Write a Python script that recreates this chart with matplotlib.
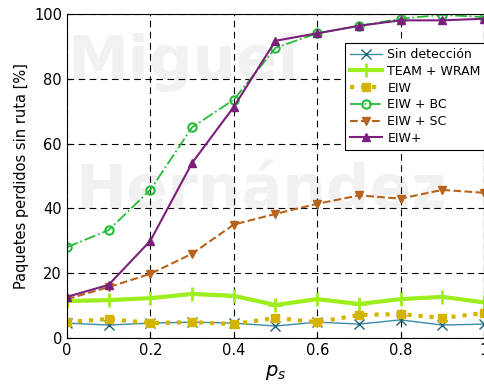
import matplotlib
matplotlib.use('Agg')
import matplotlib.pyplot as plt

p_s = [0, 0.1, 0.2, 0.3, 0.4, 0.5, 0.6, 0.7, 0.8, 0.9, 1.0]

sin_deteccion = [4.6, 4.0, 4.6, 4.9, 4.6, 3.7, 4.9, 4.3, 5.6, 4.0, 4.3]
team_wram = [11.4, 11.7, 12.3, 13.6, 13.0, 10.2, 12.0, 10.5, 12.0, 12.7, 11.0]
eiw = [4.9, 5.9, 4.6, 4.9, 4.3, 6.2, 4.9, 7.1, 7.4, 6.2, 7.7]
eiw_bc = [28.0, 33.3, 45.7, 65.0, 73.5, 89.5, 94.0, 96.3, 98.5, 99.7, 99.0]
eiw_sc = [12.0, 15.7, 19.8, 26.0, 35.0, 38.3, 41.4, 44.0, 43.0, 45.7, 44.8]
eiw_plus = [12.7, 16.4, 30.0, 54.0, 71.3, 91.7, 94.0, 96.3, 98.0, 98.0, 98.5]

fig = plt.figure(figsize=(4.85, 3.85), dpi=100)
ax = fig.add_axes([0.138, 0.122, 0.86, 0.842])

# faint watermark behind the plot
ax.text(0.0, 0.80, 'Miguel', transform=ax.transAxes, fontsize=44,
        color='#f1f1f1', fontweight='bold', zorder=0, clip_on=True)
ax.text(0.02, 0.40, 'Hernández', transform=ax.transAxes, fontsize=44,
        color='#f1f1f1', fontweight='bold', zorder=0, clip_on=True)

ax.plot(p_s, sin_deteccion, color='#3a8ca8', lw=1, marker='x', ms=7,
        mec='#1c6478', label='Sin detección')
ax.plot(p_s, team_wram, color='#9cee1c', lw=3, marker='+', ms=10, mew=2,
        label='TEAM + WRAM')
ax.plot(p_s, eiw, color='#d4b400', lw=3, ls=':', marker='s', ms=6,
        label='EIW')
ax.plot(p_s, eiw_bc, color='#26bb38', lw=1.3, ls='-.', marker='o', ms=6,
        mfc='none', mew=1.5, label='EIW + BC')
ax.plot(p_s, eiw_sc, color='#b8621c', lw=1.5, ls='--', marker='v', ms=6,
        label='EIW + SC')
ax.plot(p_s, eiw_plus, color='#7a1f7c', lw=1.5, marker='^', ms=6,
        label='EIW+')

ax.set_xlim(0, 1)
ax.set_ylim(0, 100)
ax.set_xticks([0, 0.2, 0.4, 0.6, 0.8, 1.0])
ax.set_xticklabels(['0', '0.2', '0.4', '0.6', '0.8', '1'])
ax.set_yticks([0, 20, 40, 60, 80, 100])
ax.grid(True, color='black', ls=(0, (6, 4)), lw=0.8)
ax.tick_params(labelsize=10.5, direction='in')

ax.set_xlabel('$p_s$', fontsize=14)
ax.set_ylabel('Paquetes perdidos sin ruta [%]', fontsize=10.5)

leg = ax.legend(loc='upper right', bbox_to_anchor=(1.004, 0.91), fontsize=9,
                fancybox=False, framealpha=1, edgecolor='black',
                handlelength=2.6, handletextpad=0.4, borderaxespad=0,
                labelspacing=0.3)
leg.get_frame().set_linewidth(0.8)

plt.savefig('out.png', dpi=100)
